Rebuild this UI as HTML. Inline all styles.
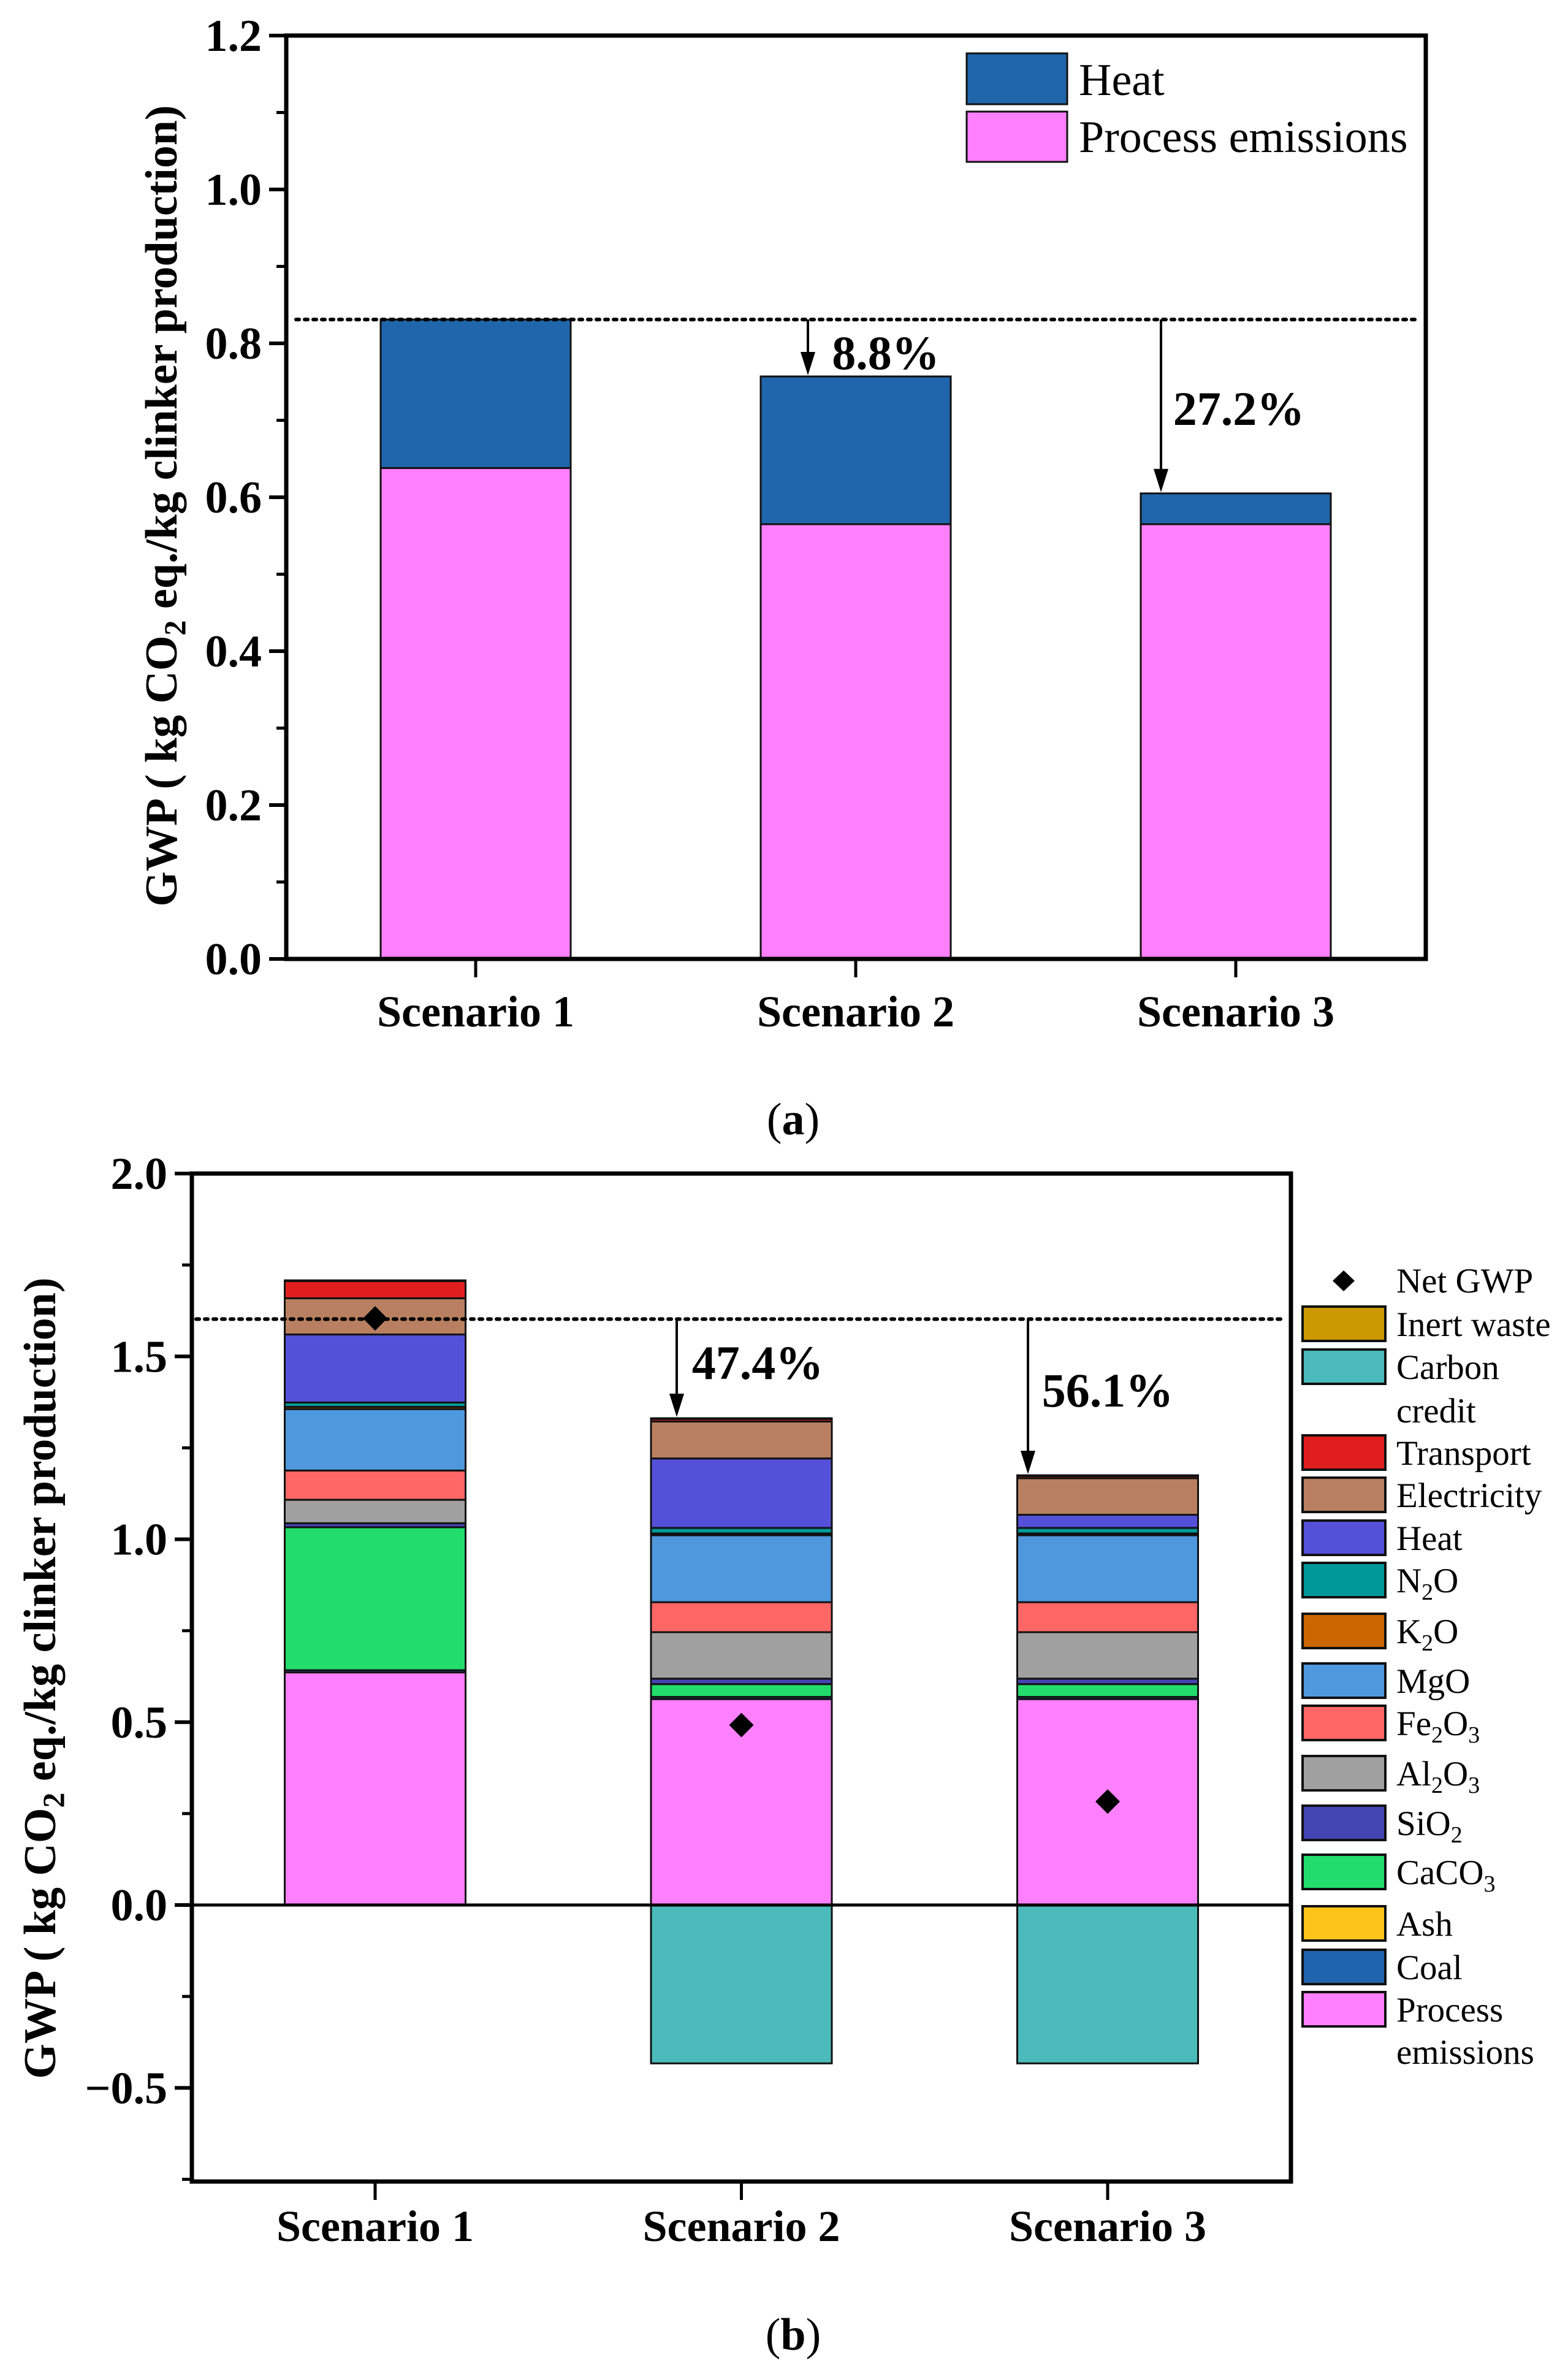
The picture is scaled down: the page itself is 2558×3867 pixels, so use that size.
<!DOCTYPE html>
<html><head><meta charset="utf-8">
<style>
html,body{margin:0;padding:0;background:#fff;}
svg{display:block;font-family:"Liberation Serif",serif;}
</style></head>
<body>
<svg id="root" width="2558" height="3867" viewBox="0 0 2558 3867" xmlns="http://www.w3.org/2000/svg">
<g id="ga"></g>
<g id="gb"></g>
</svg>
<script>
// ---- Chart (a) data ----
const catsA = ["Scenario 1","Scenario 2","Scenario 3"];
const processA = [0.638, 0.565, 0.565];
const heatA = [0.193, 0.192, 0.040];
const ticksA = [0.0,0.2,0.4,0.6,0.8,1.0,1.2];
const pctA = ["", "8.8%", "27.2%"];
const refA = 0.831;

// ---- Chart (b) data ----
const catsB = ["Scenario 1","Scenario 2","Scenario 3"];
const seriesNamesB = ["Process emissions","Coal","Ash","CaCO3","SiO2","Al2O3","Fe2O3","MgO","K2O","N2O","Heat","Electricity","Transport","Inert waste"];
const processB = [0.636, 0.563, 0.563];
const coalB = [0.006, 0.006, 0.006];
const ashB = [0.0, 0.0, 0.0];
const caco3B = [0.391, 0.035, 0.035];
const sio2B = [0.011, 0.015, 0.015];
const al2o3B = [0.064, 0.127, 0.127];
const fe2o3B = [0.080, 0.082, 0.082];
const mgoB = [0.168, 0.183, 0.183];
const k2oB = [0.006, 0.005, 0.005];
const n2oB = [0.012, 0.015, 0.015];
const heatB = [0.186, 0.190, 0.036];
const elecB = [0.099, 0.101, 0.100];
const transB = [0.047, 0.007, 0.006];
const inertB = [0.002, 0.002, 0.002];
const creditB = [0.0, -0.433, -0.433];
const netB = [1.604, 0.492, 0.283];
const ticksB = [-0.5,0.0,0.5,1.0,1.5,2.0];
const pctB = ["", "47.4%", "56.1%"];
const refB = 1.602;

const NS="http://www.w3.org/2000/svg";
function mk(parent, tag, attrs, text){
  const e=document.createElementNS(NS,tag);
  for(const k in attrs) e.setAttribute(k, attrs[k]);
  if(text!==undefined) e.textContent=text;
  parent.appendChild(e); return e;
}

// ================= Chart A =================
(function(){
  const g=document.getElementById('ga');
  const L=467,R=2326,T=58,B=1564, vmin=0, vmax=1.2;
  const y=v=>B-(v-vmin)/(vmax-vmin)*(B-T);
  const cx=i=>776+i*620; const bw=310;
  for(let i=0;i<catsA.length;i++){
    let base=0;
    const segs=[[processA[i],"#FF80FF","bar-process-"],[heatA[i],"#2166AC","bar-heat-"]];
    for(const s of segs){
      const r=mk(g,'rect',{x:cx(i)-bw/2,y:y(base+s[0]),width:bw,height:y(base)-y(base+s[0]),fill:s[1],stroke:"#111","stroke-width":3});
      
      
      base+=s[0];
    }
  }
  const dl=mk(g,'line',{x1:483,x2:2313,y1:y(refA),y2:y(refA),stroke:"#000","stroke-width":6,"stroke-dasharray":"5 9","stroke-linecap":"round"});
  
  
  const arrX=[0,1318,1894], lblX=[0,1445,2021], lblY=[0,576,667];
  for(let i=1;i<3;i++){
    const top=processA[i]+heatA[i];
    const a=mk(g,'line',{x1:arrX[i],x2:arrX[i],y1:y(refA),y2:y(top)-30,stroke:"#000","stroke-width":4});
    
    
    mk(g,'polygon',{points:`${arrX[i]-12},${y(top)-40} ${arrX[i]+12},${y(top)-40} ${arrX[i]},${y(top)-2}`,fill:"#000"});
    const t=mk(g,'text',{x:lblX[i],y:lblY[i]+26,"font-size":78,"font-weight":"bold","text-anchor":"middle"},pctA[i]);
    
    
  }
  const fr=mk(g,'rect',{x:L,y:T,width:R-L,height:B-T,fill:"none",stroke:"#000","stroke-width":7});
  
  
  for(const v of ticksA){
    mk(g,'line',{x1:L-28,x2:L,y1:y(v),y2:y(v),stroke:"#000","stroke-width":6});
    const t=mk(g,'text',{x:L-40,y:y(v)+25,"font-size":74,"font-weight":"bold","text-anchor":"end"},v.toFixed(1));
    
    
  }
  for(let k=0;k<ticksA.length-1;k++){
    const v=(ticksA[k]+ticksA[k+1])/2;
    mk(g,'line',{x1:L-16,x2:L,y1:y(v),y2:y(v),stroke:"#000","stroke-width":5});
  }
  for(let i=0;i<catsA.length;i++){
    mk(g,'line',{x1:cx(i),x2:cx(i),y1:B,y2:B+30,stroke:"#000","stroke-width":5});
    const t=mk(g,'text',{x:cx(i),y:1674,"font-size":72,"font-weight":"bold","text-anchor":"middle"},catsA[i]);
    
    
  }
  const yt=mk(g,'text',{transform:"translate(288,825) rotate(-90)","font-size":74,"font-weight":"bold","text-anchor":"middle"});
  
  
  yt.innerHTML='GWP ( kg CO<tspan font-size="50" dy="14">2</tspan><tspan dy="-14"> eq./kg clinker production)</tspan>';
  const lg=mk(g,'g',{});
  
  
  mk(lg,'rect',{x:1577,y:87,width:164,height:83,fill:"#2166AC",stroke:"#111","stroke-width":3});
  mk(lg,'rect',{x:1577,y:182,width:164,height:82,fill:"#FF80FF",stroke:"#111","stroke-width":3});
  mk(lg,'text',{x:1760,y:155,"font-size":74},"Heat");
  mk(lg,'text',{x:1760,y:248,"font-size":74},"Process emissions");
  const ca=mk(g,'text',{x:1294,y:1850,"font-size":74,"text-anchor":"middle"});
  
  
  ca.innerHTML='(<tspan font-weight="bold">a</tspan>)';
})();

// ================= Chart B =================
(function(){
  const g=document.getElementById('gb');
  const L=313,R=2106,T=1914,B=3558;
  const y=v=>3107-v*596.5;
  const cx=i=>612+i*597.5; const bw=295;
  const cols=["#FF80FF","#1F64AC","#FFC41A","#22DD6C","#4444B4","#A0A0A0","#FF6666","#4F98DE","#CC6600","#009999","#5550D8","#B88060","#E01E1E","#CC9900"];
  const data=[processB,coalB,ashB,caco3B,sio2B,al2o3B,fe2o3B,mgoB,k2oB,n2oB,heatB,elecB,transB,inertB];
  for(let i=0;i<catsB.length;i++){
    let base=0;
    for(let s=0;s<data.length;s++){
      const v=data[s][i]; if(v<=0) continue;
      const r=mk(g,'rect',{x:cx(i)-bw/2,y:y(base+v),width:bw,height:y(base)-y(base+v),fill:cols[s],stroke:"#111","stroke-width":3});
      
      
      base+=v;
    }
    if(creditB[i]<0){
      const r=mk(g,'rect',{x:cx(i)-bw/2,y:y(0),width:bw,height:y(creditB[i])-y(0),fill:"#4ABABA",stroke:"#111","stroke-width":3});
      
      
    }
  }
  const z=mk(g,'line',{x1:L,x2:R,y1:y(0),y2:y(0),stroke:"#000","stroke-width":5});
  
  
  const dl=mk(g,'line',{x1:320,x2:2098,y1:y(refB),y2:y(refB),stroke:"#000","stroke-width":6,"stroke-dasharray":"5 9","stroke-linecap":"round"});
  
  
  for(let i=0;i<netB.length;i++){
    const yy=y(netB[i]), x=cx(i);
    const d=mk(g,'polygon',{points:`${x},${yy-20} ${x+20},${yy} ${x},${yy+20} ${x-20},${yy}`,fill:"#000"});
    
    
  }
  const arrX=[0,1104,1677], lblX=[0,1236,1807], lblY=[0,2223,2268];
  for(let i=1;i<3;i++){
    let top=0; for(const s of data) top+=s[i];
    const a=mk(g,'line',{x1:arrX[i],x2:arrX[i],y1:y(refB),y2:y(top)-30,stroke:"#000","stroke-width":4});
    
    
    mk(g,'polygon',{points:`${arrX[i]-12},${y(top)-40} ${arrX[i]+12},${y(top)-40} ${arrX[i]},${y(top)-2}`,fill:"#000"});
    const t=mk(g,'text',{x:lblX[i],y:lblY[i]+26,"font-size":78,"font-weight":"bold","text-anchor":"middle"},pctB[i]);
    
    
  }
  const fr=mk(g,'rect',{x:L,y:T,width:R-L,height:B-T,fill:"none",stroke:"#000","stroke-width":7});
  
  
  for(const v of ticksB){
    mk(g,'line',{x1:L-28,x2:L,y1:y(v),y2:y(v),stroke:"#000","stroke-width":6});
    const t=mk(g,'text',{x:L-40,y:y(v)+25,"font-size":74,"font-weight":"bold","text-anchor":"end"},v<0?"\u2212"+Math.abs(v).toFixed(1):v.toFixed(1));
    
    
  }
  for(let k=0;k<ticksB.length-1;k++){
    const v=(ticksB[k]+ticksB[k+1])/2;
    mk(g,'line',{x1:L-16,x2:L,y1:y(v),y2:y(v),stroke:"#000","stroke-width":5});
  }
  mk(g,'line',{x1:L-16,x2:L,y1:y(-0.75),y2:y(-0.75),stroke:"#000","stroke-width":5});
  for(let i=0;i<catsB.length;i++){
    mk(g,'line',{x1:cx(i),x2:cx(i),y1:B,y2:B+30,stroke:"#000","stroke-width":5});
    const t=mk(g,'text',{x:cx(i),y:3655,"font-size":72,"font-weight":"bold","text-anchor":"middle"},catsB[i]);
    
    
  }
  const yt=mk(g,'text',{transform:"translate(90,2737) rotate(-90)","font-size":74,"font-weight":"bold","text-anchor":"middle"});
  
  
  yt.innerHTML='GWP ( kg CO<tspan font-size="50" dy="14">2</tspan><tspan dy="-14"> eq./kg clinker production)</tspan>';
  const lg=mk(g,'g',{"font-size":57});
  
  
  mk(lg,'polygon',{points:"2192,2072 2210,2089 2192,2106 2174,2089",fill:"#000"});
  mk(lg,'text',{x:2278,y:2108},"Net GWP");
  const items=[
    [2159,"#CC9900","Inert waste"],[2229,"#4ABABA","Carbon"],[2369,"#E01E1E","Transport"],
    [2438,"#B88060","Electricity"],[2508,"#5550D8","Heat"],[2577,"#009999","N<tspan font-size='38' dy='12'>2</tspan><tspan dy='-12'>O</tspan>"],
    [2660,"#CC6600","K<tspan font-size='38' dy='12'>2</tspan><tspan dy='-12'>O</tspan>"],[2741,"#4F98DE","MgO"],
    [2810,"#FF6666","Fe<tspan font-size='38' dy='12'>2</tspan><tspan dy='-12'>O</tspan><tspan font-size='38' dy='12'>3</tspan>"],
    [2892,"#A0A0A0","Al<tspan font-size='38' dy='12'>2</tspan><tspan dy='-12'>O</tspan><tspan font-size='38' dy='12'>3</tspan>"],
    [2973,"#4444B4","SiO<tspan font-size='38' dy='12'>2</tspan>"],
    [3053,"#22DD6C","CaCO<tspan font-size='38' dy='12'>3</tspan>"],
    [3137,"#FFC41A","Ash"],[3208,"#1F64AC","Coal"],[3277,"#FF80FF","Process"]];
  for(const it of items){
    mk(lg,'rect',{x:2125,y:it[0]-28,width:135,height:56,fill:it[1],stroke:"#111","stroke-width":4});
    const t=mk(lg,'text',{x:2278,y:it[0]+20});
    t.innerHTML=it[2];
  }
  mk(lg,'text',{x:2278,y:2320},"credit");
  mk(lg,'text',{x:2278,y:3366},"emissions");
  const cb=mk(g,'text',{x:1294,y:3832,"font-size":74,"text-anchor":"middle"});
  
  
  cb.innerHTML='(<tspan font-weight="bold">b</tspan>)';
})();
</script>
</body></html>
